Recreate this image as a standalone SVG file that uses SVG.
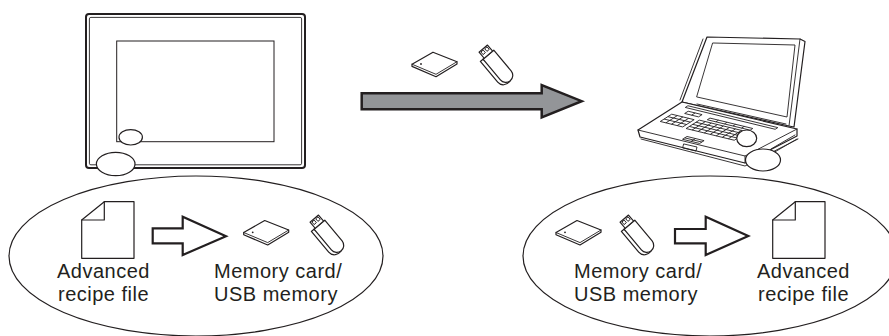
<svg xmlns="http://www.w3.org/2000/svg" width="889" height="336" viewBox="0 0 889 336">
  <style>
    .ln { fill: none; stroke: #231f20; stroke-width: 1.2; stroke-linejoin: round; stroke-linecap: round; }
    .wf { fill: #ffffff; stroke: #231f20; stroke-width: 1.2; stroke-linejoin: round; }
    .thin { fill: none; stroke: #231f20; stroke-width: 0.9; stroke-linejoin: round; stroke-linecap: round; }
    .lbl { font-family: "Liberation Sans", Arial, sans-serif; font-size: 20px; letter-spacing: 0.5px; fill: #231f20; }
    .hollow { fill: #ffffff; stroke: #231f20; stroke-width: 2.2; stroke-linejoin: miter; }
    .bold { fill: #939598; stroke: #231f20; stroke-width: 2.5; stroke-linejoin: miter; }
    .ks { fill: none; stroke: #231f20; stroke-width: 0.9; vector-effect: non-scaling-stroke; }
  </style>
  <defs>
    <!-- memory card, isometric -->
    <g id="card">
      <path class="wf" d="M1,12.5 L22,0.5 L46,10 L46,12.2 L25,25 L1,14.7 Z"/>
      <path class="thin" d="M1,12.5 L25,22.6 L46,10"/>
      <circle cx="10" cy="12.3" r="0.9" fill="#231f20"/>
    </g>
    <!-- USB stick, lying diagonally -->
    <g id="usb">
      <g transform="translate(9.4,9.7) rotate(50)">
        <path class="wf" d="M0,7 L0,10.5 L27,10.5 C32,10.5 35.5,6 34,0 Z"/>
        <path class="wf" d="M0,-7 H27 A7,7 0 0 1 27,7 H0 Z"/>
        <rect class="wf" x="-8" y="-5.5" width="8" height="11"/>
        <rect class="thin" x="-6.5" y="-4" width="3" height="3"/>
        <rect class="thin" x="-6.5" y="1" width="3" height="3"/>
      </g>
    </g>
    <!-- document with folded corner -->
    <g id="doc">
      <path class="wf" d="M22.6,0 H52.3 V56.6 H0 V18.3 Z"/>
      <path class="ln" d="M22.6,0 V18.3 H0"/>
    </g>
  </defs>

  <rect width="889" height="336" fill="#ffffff"/>

  <!-- callout ellipses -->
  <g id="callout-left">
    <ellipse class="ln" cx="196" cy="256" rx="187" ry="80"/>
  </g>
  <g id="callout-right">
    <ellipse class="ln" cx="710" cy="256" rx="187" ry="80"/>
  </g>

  <!-- operator panel -->
  <g id="hmi-panel">
    <rect x="86" y="14" width="219" height="154" rx="3" fill="#ffffff" stroke="#231f20" stroke-width="2"/>
    <rect x="89.4" y="17.4" width="212.2" height="147.4" rx="1.5" fill="none" stroke="#231f20" stroke-width="0.9"/>
    <rect x="116.7" y="41" width="157.3" height="100.7" fill="none" stroke="#231f20" stroke-width="1"/>
    <ellipse class="wf" cx="130.7" cy="137.3" rx="11.7" ry="7.7"/>
    <ellipse class="wf" cx="115.7" cy="164" rx="19.3" ry="11.7"/>
  </g>

  <!-- notebook computer -->
  <g id="laptop">
    <!-- lid -->
    <path class="wf" d="M707,37 L800,39 L805,41.5 L794,127 L789,126 L682,102 Z"/>
    <path class="thin" d="M800,39 L789,126"/>
    <path class="thin" d="M703,39 L680,100"/>
    <path class="thin" d="M713,43 L795,45 L787,117 L697,97 Z"/>
    <path class="thin" d="M697,104 L786,124 M699,108 L784,128"/>
    <!-- deck -->
    <path class="wf" d="M682,102 L797,129 L797,136 L745,163 L640,137 L638,130 Z"/>
    <path class="thin" d="M638,130 L745,156 L797,129 M745,156 L745,163"/>
    <path class="thin" d="M641,139 L745,166 L798,139"/>
    <path class="thin" d="M684,144 L697,147 L696,151 L683,148 Z"/>
    <path class="thin" d="M795,135 L771,149 M797,139 L773,153"/>
    <!-- keyboard, in deck plane coordinates -->
    <g transform="matrix(1.07,0.26,0.44,-0.28,638,130)">
      <path class="ks" d="M6,36 H27 V62 H6 Z M6,44.7 H27 M6,53.3 H27 M11.3,36 V62 M16.5,36 V62 M21.8,36 V62"/>
      <path class="ks" d="M31,34 H76 V64 H31 Z M31,41.5 H76 M31,49 H76 M31,56.5 H76 M36.6,34 V64 M42.2,34 V64 M47.9,34 V64 M53.5,34 V64 M59.1,34 V64 M64.8,34 V64 M70.4,34 V64"/>
      <path class="ks" d="M14,72 H27 V80 H14 Z M20.5,72 V80"/>
      <path class="ks" d="M36,70 H76 V76 H36 Z M44,70 V76 M52,70 V76 M60,70 V76 M68,70 V76"/>
      <path class="ks" d="M40,4 H56 V14 H40 Z M48,4 V14 M40,9 H56"/>
      <path class="ks" d="M8,88 H92 V94 H8 Z"/>
    </g>
    <ellipse class="wf" cx="746.7" cy="138.3" rx="10" ry="8.3"/>
    <ellipse class="wf" cx="763" cy="160" rx="17.5" ry="11"/>
  </g>

  <!-- storage media above the transfer arrow -->
  <g id="media-top">
    <use href="#card" x="411" y="51.7"/>
    <use href="#usb" x="479" y="45"/>
  </g>

  <!-- contents of the left callout -->
  <g id="save-side">
    <use href="#doc" x="81.7" y="201.7"/>
    <use href="#card" x="242.7" y="220"/>
    <use href="#usb" x="310" y="215"/>
    <text class="lbl" x="57" y="278">Advanced</text>
    <text class="lbl" x="58" y="300.5">recipe file</text>
    <text class="lbl" x="214" y="278">Memory card/</text>
    <text class="lbl" x="214" y="300.5">USB memory</text>
  </g>

  <!-- contents of the right callout -->
  <g id="load-side">
    <use href="#card" x="555" y="220"/>
    <use href="#usb" x="620" y="215"/>
    <use href="#doc" x="772.7" y="201.7"/>
    <text class="lbl" x="574" y="278">Memory card/</text>
    <text class="lbl" x="574" y="300.5">USB memory</text>
    <text class="lbl" x="757" y="278">Advanced</text>
    <text class="lbl" x="758" y="300.5">recipe file</text>
  </g>

  <!-- arrows -->
  <g id="connectors">
    <path class="bold" d="M361.7,93.3 H541.7 V85 L581.7,101.2 L541.7,117.3 V109.3 H361.7 Z"/>
    <path class="hollow" d="M152.7,228.3 H182.7 V216.7 L226,236.3 L182.7,255 V243.3 H152.7 Z"/>
    <path class="hollow" d="M675,229 H705.7 V216.7 L748.3,236 L705.7,255 V243.3 H675 Z"/>
  </g>
</svg>
